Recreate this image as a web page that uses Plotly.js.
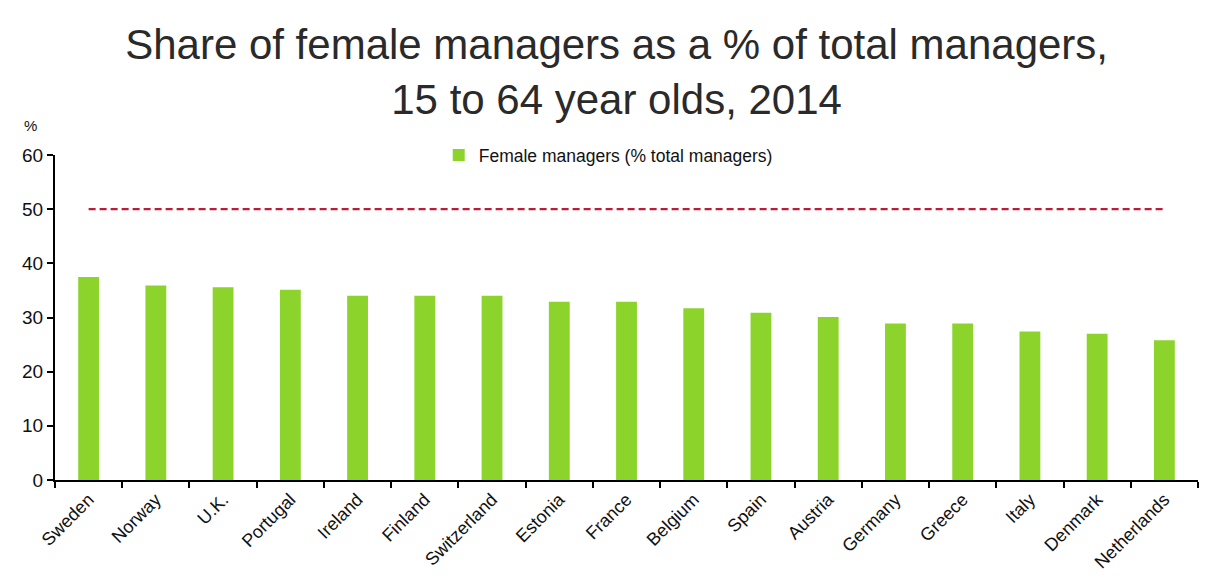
<!DOCTYPE html>
<html>
<head>
<meta charset="utf-8">
<script src="https://cdn.plot.ly/plotly-3.0.1.min.js"></script>
<style>html,body{margin:0;padding:0;background:#fff;}#chart{width:1221px;height:580px;}</style>
</head>
<body>
<div id="chart"></div>
<script>
const countries = ["Sweden","Norway","U.K.","Portugal","Ireland","Finland","Switzerland","Estonia","France","Belgium","Spain","Austria","Germany","Greece","Italy","Denmark","Netherlands"];
const femaleShare = [37.5, 35.9, 35.6, 35.1, 34.0, 34.0, 34.0, 32.9, 32.9, 31.7, 30.9, 30.1, 28.9, 28.9, 27.4, 27.0, 25.8];
const parityLevel = countries.map(() => 50);
const seriesName = "Female managers (% total managers)";
const titleText = "Share of female managers as a % of total managers,<br>15 to 64 year olds, 2014";
const yTicks = [0, 10, 20, 30, 40, 50, 60];

const font = "Liberation Sans, Arial, sans-serif";

const traces = [
  {
    type: "bar",
    x: countries,
    y: femaleShare,
    name: seriesName,
    marker: {color: "#8cd42c"},
    hoverinfo: "x+y"
  },
  {
    type: "scatter",
    mode: "lines",
    x: countries,
    y: parityLevel,
    showlegend: false,
    line: {color: "#b81d3a", width: 2.2, dash: "7px,4px"},
    hoverinfo: "skip"
  }
];

const layout = {
  width: 1221,
  height: 580,
  paper_bgcolor: "#fff",
  plot_bgcolor: "#fff",
  margin: {l: 55, r: 23, t: 155, b: 100},
  font: {family: font, color: "#111"},
  title: {
    text: titleText,
    font: {family: font, size: 42, color: "#2a2a2a"},
    x: 0.505, xanchor: "center",
    yref: "container",
    y: 0.898, yanchor: "middle"
  },
  bargap: 0.69,
  showlegend: true,
  legend: {
    orientation: "h",
    x: 0.484, xanchor: "center",
    y: 1.0, yanchor: "middle",
    font: {family: font, size: 17.5, color: "#111"},
    bgcolor: "rgba(0,0,0,0)",
    itemwidth: 30
  },
  xaxis: {
    type: "category",
    showgrid: false,
    showline: true,
    linecolor: "#000",
    linewidth: 2,
    ticks: "outside",
    tickson: "boundaries",
    ticklen: 6,
    tickwidth: 2,
    tickcolor: "#000",
    tickangle: -45,
    tickfont: {family: font, size: 18, color: "#111"},
    zeroline: false
  },
  yaxis: {
    range: [0, 60],
    tickvals: yTicks,
    showgrid: false,
    showline: true,
    linecolor: "#000",
    linewidth: 2,
    ticks: "outside",
    ticklen: 6,
    tickwidth: 2,
    tickcolor: "#000",
    tickfont: {family: font, size: 19, color: "#111"},
    zeroline: false
  },
  annotations: [
    {
      text: "%",
      xref: "paper", yref: "paper",
      x: -0.021, y: 1.09,
      xanchor: "center", yanchor: "middle",
      showarrow: false,
      font: {family: font, size: 15, color: "#111"}
    }
  ]
};

Plotly.newPlot("chart", traces, layout, {displayModeBar: false, staticPlot: true});
</script>
</body>
</html>
